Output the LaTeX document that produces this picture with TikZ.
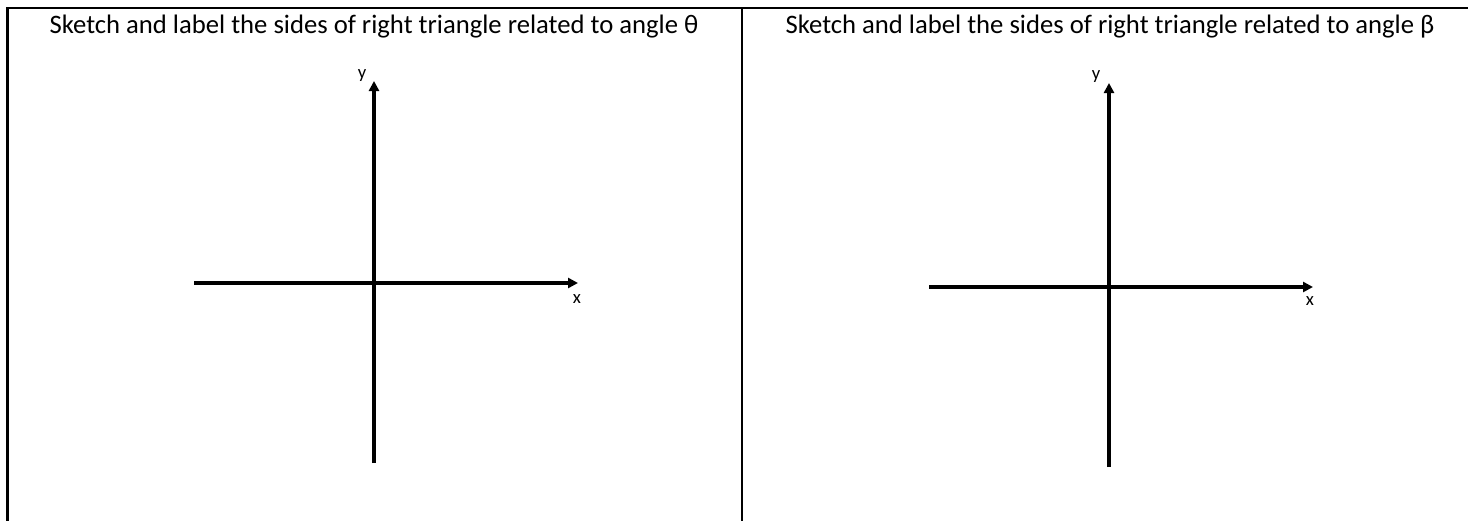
\documentclass[tikz,border=0pt]{standalone}
\usepackage{fontspec}
\setmainfont{Carlito}
\usepackage{tikz}
\usetikzlibrary{arrows.meta,positioning}

\begin{document}
\begin{tikzpicture}[x=0.75pt,y=-0.75pt,
  frame/.style={line width=2.2pt},
  axis/.style={line width=2.5pt,-{Triangle[length=7.5pt,width=7.5pt]}},
  title/.style={font=\fontsize{20}{24}\selectfont, inner sep=0pt},
  axlabel/.style={font=\fontsize{14}{16}\selectfont, inner sep=0pt}
]
  \useasboundingbox (0,0) rectangle (1468,521);

  % Table frame
  \coordinate (tl) at (7.5,8);
  \coordinate (tr) at (1468,8);
  \coordinate (bl) at (7.5,521);
  \coordinate (tm) at (742,8);
  \coordinate (bm) at (742,521);
  \draw[frame] (bl) -- (tl) -- (tr);
  \draw[frame] (tm) -- (bm);

  % Titles
  \node[title] (tleft) at (374,27) {Sketch and label the sides of right triangle related to angle θ};
  \node[title] (tright) at (1110,27) {Sketch and label the sides of right triangle related to angle β};

  % Left axes
  \coordinate (lxa) at (194,283);
  \coordinate (lxb) at (578,283);
  \coordinate (lya) at (374,463);
  \coordinate (lyb) at (374,81);
  \draw[axis] (lxa) -- (lxb);
  \draw[axis] (lya) -- (lyb);
  \node[axlabel] (lx) at (577,299) {x};
  \node[axlabel] (ly) at (362,76) {y};

  % Right axes
  \coordinate (rxa) at (929,287);
  \coordinate (rxb) at (1313,287);
  \coordinate (rya) at (1109,467);
  \coordinate (ryb) at (1109,83);
  \draw[axis] (rxa) -- (rxb);
  \draw[axis] (rya) -- (ryb);
  \node[axlabel] (rx) at (1310,301) {x};
  \node[axlabel] (ry) at (1096,77) {y};
\end{tikzpicture}
\end{document}
